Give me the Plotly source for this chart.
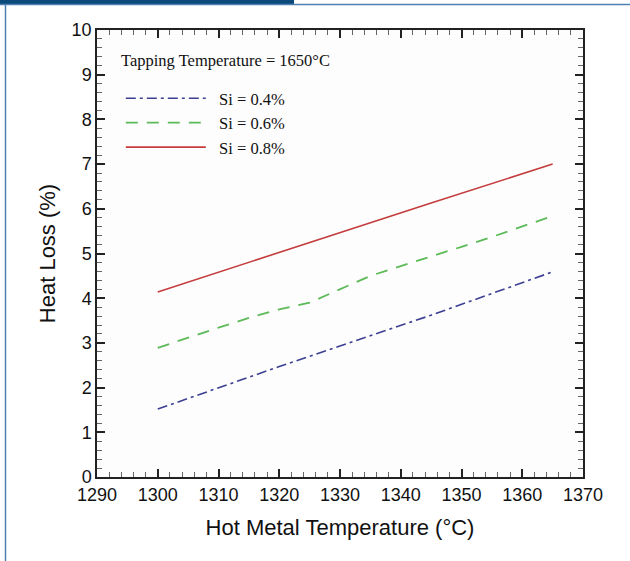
import plotly.graph_objects as go

# ---- data ----
temp_si04 = [1300, 1320, 1345, 1365]
loss_si04 = [1.52, 2.47, 3.62, 4.59]

temp_si06 = [1300, 1305, 1310, 1315, 1320, 1325, 1330, 1335, 1340, 1345, 1350, 1355, 1360, 1365]
loss_si06 = [2.89, 3.12, 3.34, 3.56, 3.75, 3.90, 4.20, 4.50, 4.72, 4.93, 5.15, 5.37, 5.60, 5.84]

temp_si08 = [1300, 1320, 1345, 1365]
loss_si08 = [4.14, 5.03, 6.13, 7.00]

series_names = ["Si = 0.4%", "Si = 0.6%", "Si = 0.8%"]
legend_title = "Tapping Temperature = 1650°C"
x_title = "Hot Metal Temperature (°C)"
y_title = "Heat Loss (%)"

NB = "\u00a0\u00a0"

fig = go.Figure()
fig.add_trace(go.Scatter(x=temp_si04, y=loss_si04, mode="lines", name=NB + series_names[0],
                         line=dict(color="#3c3f92", width=1.6, dash="10px,4px,3px,4px")))
fig.add_trace(go.Scatter(x=temp_si06, y=loss_si06, mode="lines", name=NB + series_names[1],
                         line=dict(color="#5dba58", width=1.8, dash="12px,9px")))
fig.add_trace(go.Scatter(x=temp_si08, y=loss_si08, mode="lines", name=NB + series_names[2],
                         line=dict(color="#c43c3c", width=1.6)))

SANS = "Liberation Sans, Arial"
SERIF = "Liberation Serif, Times New Roman"

axis_common = dict(
    showgrid=False, zeroline=False, showline=True, linecolor="#222", linewidth=1.5,
    mirror="allticks", ticks="inside", ticklen=8, tickwidth=2.2, tickcolor="#222",
    tickfont=dict(family=SANS, size=18, color="#111"),
)

fig.update_xaxes(range=[1290, 1370], dtick=10, tick0=1290,
                 minor=dict(ticks="inside", ticklen=5, dtick=2, tickcolor="#666", tickwidth=1),
                 ticklabelstandoff=1,
                 title=dict(text=x_title, font=dict(family=SANS, size=22, color="#111"),
                            standoff=15),
                 **axis_common)
fig.update_yaxes(range=[0, 10], dtick=1,
                 minor=dict(ticks="inside", ticklen=5, dtick=0.2, tickcolor="#666", tickwidth=1),
                 title=dict(text=y_title, font=dict(family=SANS, size=22, color="#111"),
                            standoff=10),
                 **axis_common)

fig.update_layout(
    width=630, height=561,
    margin=dict(l=97, r=47, t=30, b=84),
    paper_bgcolor="white", plot_bgcolor="#fdfdfd",
    showlegend=True,
    legend=dict(
        x=0.049, y=(477 - 81) / 447, xanchor="left", yanchor="top",
        bgcolor="rgba(0,0,0,0)",
        font=dict(family=SERIF, size=16.5, color="#111"),
        itemwidth=80,
    ),
)

fig.add_annotation(text=legend_title, xref="paper", yref="paper",
                   x=(119 - 97) / 486, y=(477 - 60) / 447, xanchor="left", yanchor="middle",
                   showarrow=False, font=dict(family=SERIF, size=16.5, color="#111"))

# page decoration: dark header tab, thin frame lines
fig.add_shape(type="rect", xref="paper", yref="paper",
              x0=-97/486, x1=(294-97)/486, y0=(477-0)/447, y1=(477-4)/447,
              fillcolor="#0c4a7c", line=dict(width=0), layer="above")
fig.add_shape(type="line", xref="paper", yref="paper",
              x0=-97/486, x1=(630-97)/486, y0=(477-4.5)/447, y1=(477-4.5)/447,
              line=dict(color="#4f80b0", width=1.5))
fig.add_shape(type="line", xref="paper", yref="paper",
              x0=(5.5-97)/486, x1=(5.5-97)/486, y0=(477-4)/447, y1=(477-561)/447,
              line=dict(color="#4f80b0", width=1.5))

fig.write_html("out.html", config={"displayModeBar": False},
               post_script="document.body.style.margin='0';")
